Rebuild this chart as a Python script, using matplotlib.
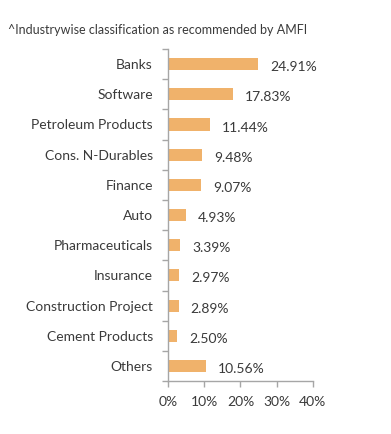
import numpy as np
import matplotlib

matplotlib.use('Agg')
import matplotlib.pyplot as plt  # noqa: E402

plt.rcParams['font.family'] = ['Lato', 'DejaVu Sans']

categories = ['Banks', 'Software', 'Petroleum Products', 'Cons. N-Durables', 'Finance',
              'Auto', 'Pharmaceuticals', 'Insurance', 'Construction Project',
              'Cement Products', 'Others']
weights = [24.91, 17.83, 11.44, 9.48, 9.07, 4.93, 3.39, 2.97, 2.89, 2.50, 10.56]
x_ticks = [0, 10, 20, 30, 40]

text_color = '#3a3a3a'
axis_color = '#a6a6a6'
bar_color = '#F0B26B'

figure = plt.figure(figsize=(3.91, 4.34), dpi=100)
axis = figure.add_axes([0.43, 0.122, 0.37, 0.765])

positions = np.arange(len(categories))
axis.barh(positions, weights, height=0.4, color=bar_color)
for pos, value in zip(positions, weights):
    axis.text(value + 3.3, pos + 0.1, f'{value:.2f}%', ha='left', va='center',
              fontsize=10, color=text_color)

axis.set_xlim(0, 40)
axis.set_ylim(len(categories) - 0.5, -0.5)
axis.set_xticks(x_ticks, labels=[f'{t}%' for t in x_ticks])
axis.set_yticks(positions, labels=categories)
axis.set_yticks(np.arange(len(categories) + 1) - 0.5, minor=True)
axis.tick_params(axis='y', which='major', length=0, pad=11, labelsize=10, labelcolor=text_color)
axis.tick_params(axis='y', which='minor', length=4, color=axis_color, width=1)
axis.tick_params(axis='x', length=4, color=axis_color, width=1, labelsize=10,
                 labelcolor=text_color, pad=7)

for side in ('top', 'right'):
    axis.spines[side].set_visible(False)
for side in ('left', 'bottom'):
    axis.spines[side].set_color(axis_color)
    axis.spines[side].set_linewidth(1)

figure.text(0.02, 0.93, '^Industrywise classification as recommended by AMFI',
            fontsize=9, color=text_color, va='center')

figure.savefig('out.png', dpi=100)
